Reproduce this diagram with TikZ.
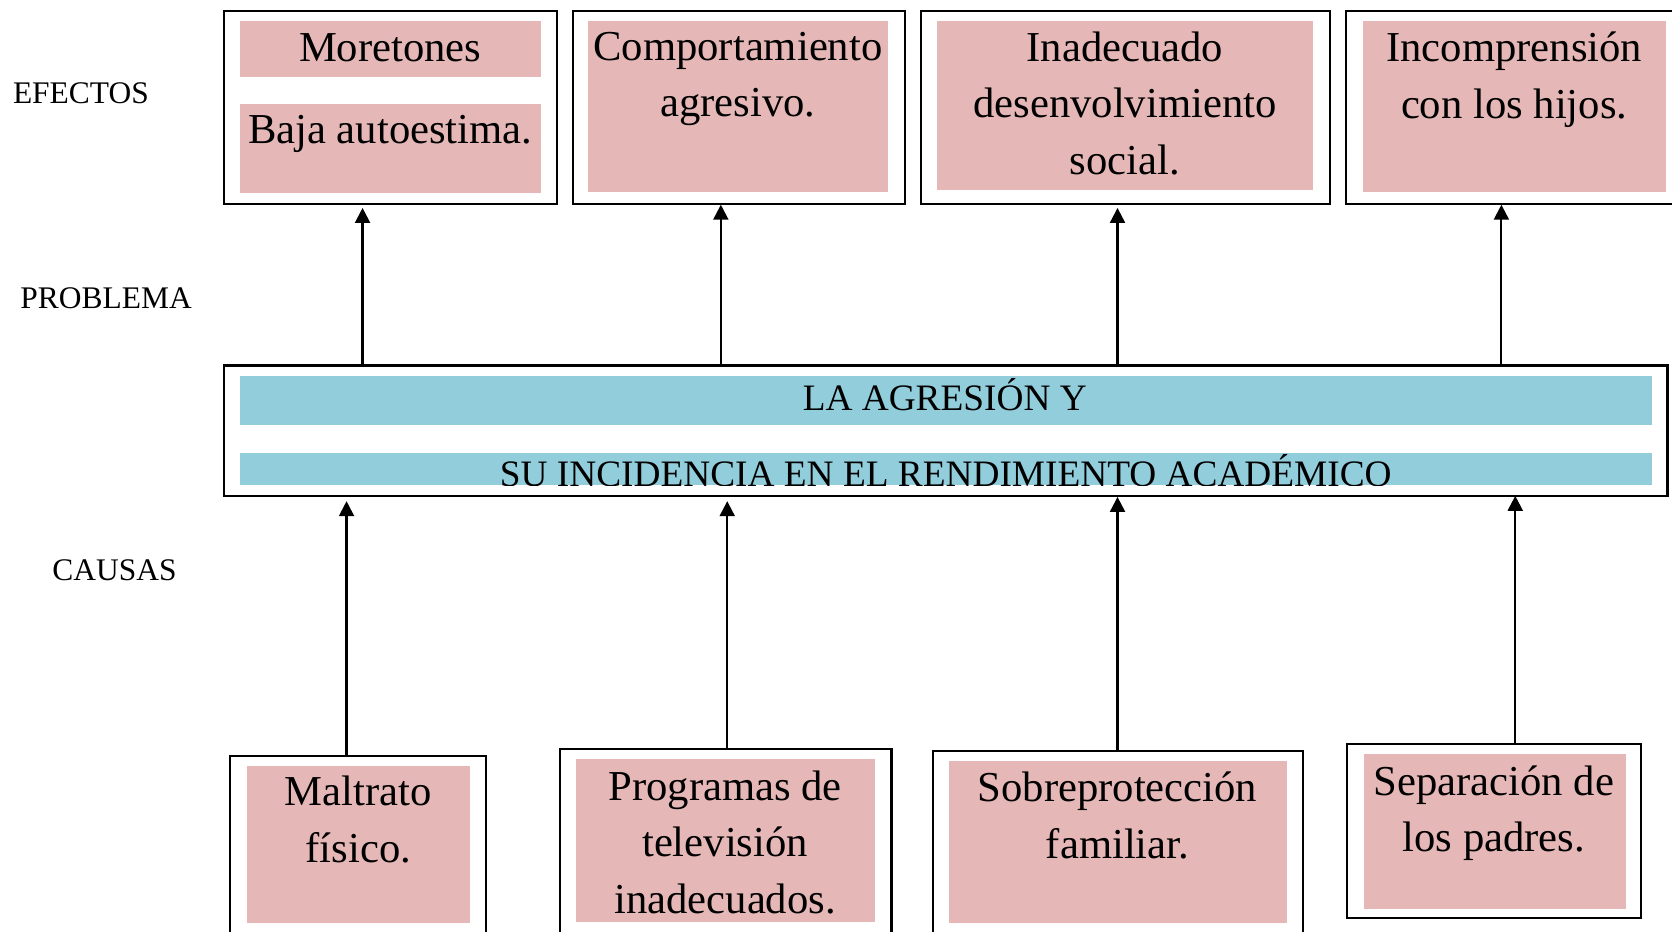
\documentclass[tikz,border=0pt]{standalone}
\usepackage{fontspec}
\setmainfont{Liberation Serif}
\usetikzlibrary{arrows.meta}
\definecolor{rosa}{HTML}{E5B8B7}
\definecolor{celeste}{HTML}{92CDDC}
\tikzset{
  marco/.style={draw, line width=2pt, inner sep=0pt, outer sep=0pt},
  rosabox/.style={fill=rosa, inner sep=0pt},
  celestebox/.style={fill=celeste, inner sep=0pt},
  texto/.style={font=\fontsize{40}{53}\selectfont, align=center, inner sep=0pt, anchor=north},
  titulo/.style={font=\fontsize{35}{42}\selectfont, inner sep=0pt, anchor=base},
  nivel/.style={font=\fontsize{29.5}{35}\selectfont, inner sep=0pt, anchor=base west},
  flecha/.style={-{Triangle[width=14pt,length=14pt]}, line width=2pt},
}

\begin{document}
\begin{tikzpicture}[x=1pt, y=-1pt]
    \useasboundingbox (0,0) rectangle (1568,874);

    \node[nivel] (efectos) at (12,97) {EFECTOS};
    \node[nivel] (problema) at (19,289) {PROBLEMA};
    \node[nivel] (causas) at (49,544) {CAUSAS};

    \node[marco, minimum width=312pt, minimum height=181pt] (e1) at (366,100.5) {};
    \node[marco, minimum width=312pt, minimum height=181pt] (e2) at (693,100.5) {};
    \node[marco, minimum width=383pt, minimum height=181pt] (e3) at (1055.5,100.5) {};
    \node[marco, minimum width=310pt, minimum height=181pt] (e4) at (1417,100.5) {};

    \node[rosabox, minimum width=282pt, minimum height=52pt] (r1a) at (366,46) {};
    \node[rosabox, minimum width=282pt, minimum height=83pt] (r1b) at (366,139.5) {};
    \node[rosabox, minimum width=282pt, minimum height=160pt] (r2) at (692,100) {};
    \node[rosabox, minimum width=352pt, minimum height=158pt] (r3) at (1055,99) {};
    \node[rosabox, minimum width=284pt, minimum height=160pt] (r4) at (1420,100) {};

    \node[texto, anchor=base] (t1a) at (366,58) {Moretones};
    \node[texto, anchor=base] (t1b) at (366,135) {Baja autoestima.};
    \node[texto] (t2) at (692,29.7) {Comportamiento\\agresivo.};
    \node[texto] (t3) at (1055,29.7) {Inadecuado\\desenvolvimiento\\social.};
    \node[texto] (t4) at (1420,29.7) {Incomprensión\\con los hijos.};

    \node[marco, line width=2.5pt, minimum width=1354pt, minimum height=122pt] (prob) at (887,404) {};
    \node[celestebox, minimum width=1324pt, minimum height=46pt] (b1) at (887,376) {};
    \node[celestebox, minimum width=1324pt, minimum height=30pt] (b2) at (887,440) {};
    \node[titulo] (p1) at (886,385) {LA AGRESIÓN Y};
    \begin{scope}
        \clip (b2.south west) rectangle (b2.north east);
        \node[titulo] (p2) at (887,456) {SU INCIDENCIA EN EL RENDIMIENTO ACADÉMICO};
    \end{scope}

    \node[marco, minimum width=240pt, minimum height=171pt] (c1) at (336,794.5) {};
    \node[marco, minimum width=311pt, minimum height=178pt] (c2) at (680.5,791) {};
    \node[marco, minimum width=347pt, minimum height=176pt] (c3) at (1048.5,792) {};
    \node[marco, minimum width=276pt, minimum height=163pt] (c4) at (1401,779.5) {};

    \node[rosabox, minimum width=209pt, minimum height=148pt] (s1) at (336.5,792) {};
    \node[rosabox, minimum width=281pt, minimum height=153pt] (s2) at (680.5,788.5) {};
    \node[rosabox, minimum width=317pt, minimum height=152pt] (s3) at (1048.5,790) {};
    \node[rosabox, minimum width=246pt, minimum height=145pt] (s4) at (1402,779.5) {};

    \node[texto] (u1) at (336,727.7) {Maltrato\\físico.};
    \node[texto] (u2) at (680,722.7) {Programas de\\televisión\\inadecuados.};
    \node[texto] (u3) at (1048,723.7) {Sobreprotección\\familiar.};
    \node[texto] (u4) at (1401,717.7) {Separación de\\los padres.};

    \coordinate (x1) at (340,0);
    \coordinate (x2) at (676,0);
    \coordinate (x3) at (1048,0);
    \coordinate (x4) at (1408,0);
    \coordinate (y1) at (325,0);
    \coordinate (y2) at (682,0);
    \coordinate (y3) at (1048,0);
    \coordinate (y4) at (1421,0);

    \draw[flecha, shorten >=4pt] (prob.north -| x1) -- (e1.south -| x1);
    \draw[flecha, shorten >=1pt] (prob.north -| x2) -- (e2.south -| x2);
    \draw[flecha, shorten >=4pt] (prob.north -| x3) -- (e3.south -| x3);
    \draw[flecha, shorten >=1pt] (prob.north -| x4) -- (e4.south -| x4);

    \draw[flecha, shorten >=5pt] (c1.north -| y1) -- (prob.south -| y1);
    \draw[flecha, shorten >=5pt] (c2.north -| y2) -- (prob.south -| y2);
    \draw[flecha, shorten >=1pt] (c3.north -| y3) -- (prob.south -| y3);
    \draw[flecha] (c4.north -| y4) -- (prob.south -| y4);
\end{tikzpicture}
\end{document}
